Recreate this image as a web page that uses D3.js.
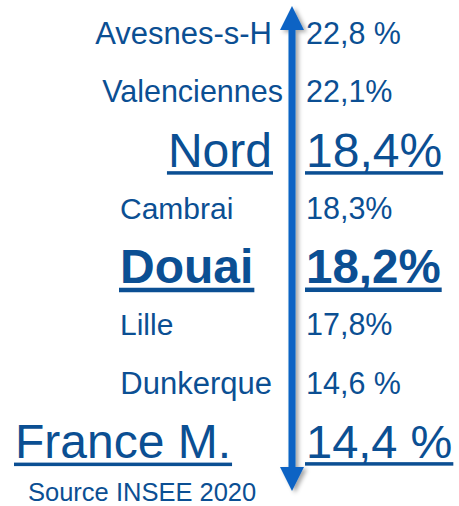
<!DOCTYPE html>
<html>
<head>
<meta charset="utf-8">
<script src="https://cdn.jsdelivr.net/npm/d3@7"></script>
<style>
  body { margin: 0; background: #fff; }
  text { font-family: "Liberation Sans", Arial, sans-serif; }
</style>
</head>
<body>
<div class="chart"></div>
<script>
// data
var places = ["Avesnes-s-H", "Valenciennes", "Nord", "Cambrai", "Douai", "Lille", "Dunkerque", "France M."];
var rates = [22.8, 22.1, 18.4, 18.3, 18.2, 17.8, 14.6, 14.4];
var rateLabels = ["22,8 %", "22,1%", "18,4%", "18,3%", "18,2%", "17,8%", "14,6 %", "14,4 %"];
var sourceText = "Source INSEE 2020";

// how each row looks (size, weight, underline, where the name sits)
var rowStyle = {
  "Avesnes-s-H":  { size: 31, vsize: 30.5, bold: false, under: false, align: "end" },
  "Valenciennes": { size: 30.5, vsize: 30.5, bold: false, under: false, align: "snug" },
  "Nord":         { size: 48, vsize: 48, bold: false, under: true,  align: "end" },
  "Cambrai":      { size: 30, vsize: 30.5, bold: false, under: false, align: "start" },
  "Douai":        { size: 48, vsize: 47.5, bold: true,  under: true,  align: "start" },
  "Lille":        { size: 30, vsize: 30.5, bold: false, under: false, align: "start" },
  "Dunkerque":    { size: 31, vsize: 30.5, bold: false, under: false, align: "end" },
  "France M.":    { size: 48, vsize: 47, bold: false, under: true,  align: "edge" }
};

var svgWidth = 459;
var svgHeight = 506;
var textColor = "#0b4f93";
var arrowColor = "#0a64c4";
var arrowX = 292;

var rows = places.map(function(p, i) {
  return { place: p, rate: rates[i], label: rateLabels[i], style: rowStyle[p] };
});

var svg = d3.select(".chart")
  .append("svg")
  .attr("width", svgWidth)
  .attr("height", svgHeight);

// rows are ranked top to bottom
var yScale = d3.scalePoint()
  .domain(places)
  .range([33, 441]);

// shadow for the arrow
var defs = svg.append("defs");
defs.append("filter")
  .attr("id", "shadow")
  .attr("x", "-100%").attr("y", "-5%")
  .attr("width", "300%").attr("height", "110%")
  .append("feDropShadow")
  .attr("dx", 3).attr("dy", 2)
  .attr("stdDeviation", 2)
  .attr("flood-color", "#000")
  .attr("flood-opacity", 0.35);

// double headed arrow along the ranking
var arrowTop = yScale.range()[0] - 27;
var arrowBottom = yScale.range()[1] + 50;
var shaft = 3.5, head = 12, headLen = 24;
var arrowPath = d3.path();
arrowPath.moveTo(arrowX, arrowTop);
arrowPath.lineTo(arrowX + head, arrowTop + headLen);
arrowPath.lineTo(arrowX + shaft, arrowTop + headLen);
arrowPath.lineTo(arrowX + shaft, arrowBottom - headLen);
arrowPath.lineTo(arrowX + head, arrowBottom - headLen);
arrowPath.lineTo(arrowX, arrowBottom);
arrowPath.lineTo(arrowX - head, arrowBottom - headLen);
arrowPath.lineTo(arrowX - shaft, arrowBottom - headLen);
arrowPath.lineTo(arrowX - shaft, arrowTop + headLen);
arrowPath.lineTo(arrowX - head, arrowTop + headLen);
arrowPath.closePath();

svg.append("path")
  .attr("d", arrowPath.toString())
  .attr("fill", arrowColor)
  .attr("filter", "url(#shadow)");

function nameX(align) {
  if (align === "end") return arrowX - 20;
  if (align === "snug") return arrowX - 9;
  if (align === "start") return 120;
  return 15;
}

var rowGroups = svg.selectAll(".row")
  .data(rows)
  .enter()
  .append("g")
  .attr("class", "row")
  .attr("transform", d => `translate(0, ${yScale(d.place)})`);

// place names
rowGroups.append("text")
  .attr("class", "name")
  .attr("x", d => nameX(d.style.align))
  .attr("dy", "0.36em")
  .attr("text-anchor", d => (d.style.align === "end" || d.style.align === "snug") ? "end" : "start")
  .attr("font-size", d => d.style.size)
  .attr("font-weight", d => d.style.bold ? "bold" : "normal")
  .attr("fill", textColor)
  .text(d => d.place);

// rates
rowGroups.append("text")
  .attr("class", "rate")
  .attr("x", arrowX + 14)
  .attr("dy", "0.36em")
  .attr("font-size", d => d.style.vsize)
  .attr("font-weight", d => d.style.bold ? "bold" : "normal")
  .attr("fill", textColor)
  .text(d => d.label);

// underlines for the highlighted rows
rowGroups.filter(d => d.style.under).each(function(d) {
  var g = d3.select(this);
  g.selectAll("text").each(function() {
    var t = d3.select(this);
    var box = this.getBBox();
    var fs = +t.attr("font-size");
    g.append("rect")
      .attr("x", box.x - 1)
      .attr("y", fs * 0.36 + fs * 0.09)
      .attr("width", box.width + 2)
      .attr("height", d.style.bold ? 4.5 : 3.5)
      .attr("fill", textColor);
  });
});

svg.append("text")
  .attr("x", 28)
  .attr("y", 501)
  .attr("font-size", 25.5)
  .attr("fill", textColor)
  .text(sourceText);
</script>
</body>
</html>
